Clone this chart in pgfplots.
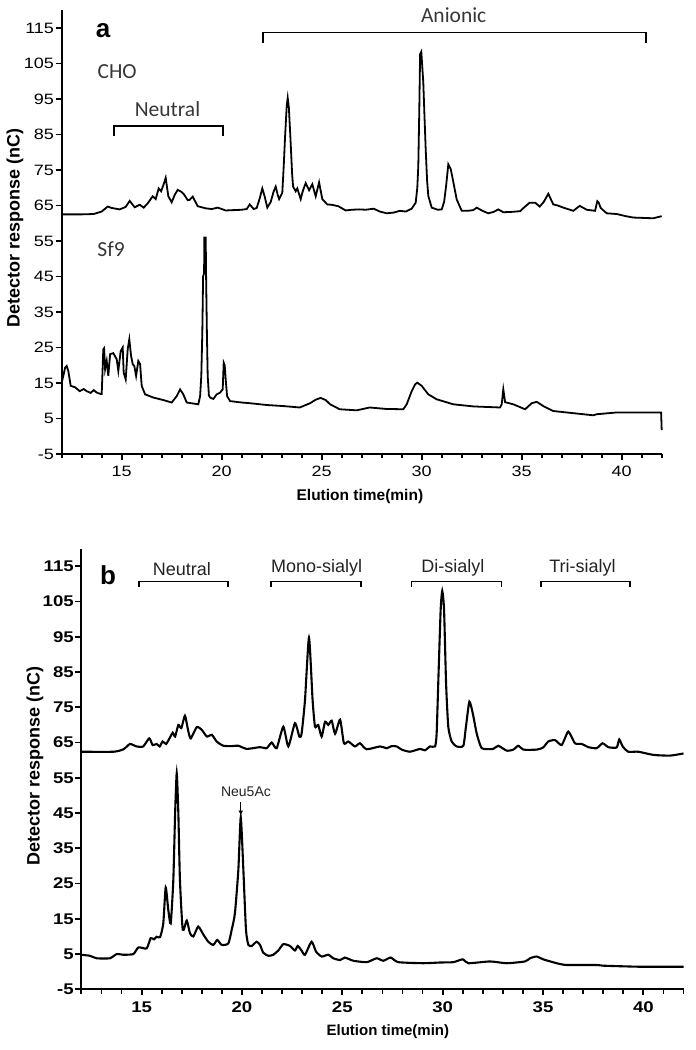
\documentclass[border=0pt]{standalone}
\usepackage{fontspec}
\setmainfont{Liberation Sans}
\newfontfamily\tickfont[FakeStretch=1.2]{Liberation Sans}
\newfontfamily\calib{Carlito}
\usepackage{pgfplots}
\pgfplotsset{compat=1.18}
\usetikzlibrary{arrows.meta}
\definecolor{annot}{RGB}{55,55,55}
\definecolor{annotb}{RGB}{35,35,35}
\pgfplotsset{
 chrom/.style={
  scale only axis, xmin=12, xmax=42, ymin=-5, ymax=120,
  axis x line*=bottom, axis y line*=left,
  axis line style={line width=2.2pt,-},
  xtick={15,20,...,40},
  extra x ticks={12,13,14,16,17,18,19,21,22,23,24,26,27,28,29,31,32,33,34,36,37,38,39,41,42},
  extra x tick labels={},
  extra x tick style={major tick length=4.5pt},
  ytick={-5,5,...,115},
  tick align=outside, major tick length=6pt,
  every tick/.style={line width=1.8pt, black},
  clip=false,
  /pgf/number format/assume math mode=true,
  yticklabel style={inner sep=1.5pt},
  xticklabel style={inner sep=2pt, yshift=-4pt},
 }
}
\begin{document}
\begin{tikzpicture}
\useasboundingbox (0,0) rectangle (696pt,1050pt);
% ---------------- panel a ----------------
\begin{axis}[chrom, at={(61.7pt,596pt)}, anchor=south west,
  width=600pt, height=443.75pt,
  tick label style={font=\tickfont\fontsize{15}{15}\selectfont},
  xlabel={Elution time(min)},
  ylabel={Detector response (nC)},
  xlabel style={font=\bfseries\fontsize{15.5}{16}\selectfont, at={(axis description cs:0.497,-0.0947)}, anchor=center},
  ylabel style={font=\bfseries\fontsize{18}{18}\selectfont, at={(axis description cs:-0.0778,0.51)}, anchor=center},
]
\addplot[black, line width=1.8pt] table {
12.0 62.5
13.0 62.5
13.6 62.6
14.0 63.3
14.3 64.7
14.5 64.3
14.9 63.9
15.2 64.6
15.4 66.3
15.65 64.5
15.9 65.2
16.1 64.4
16.3 65.6
16.55 67.6
16.7 66.8
16.85 69.8
16.97 69.0
17.1 71.0
17.2 72.8
17.33 67.6
17.5 65.9
17.65 68.0
17.8 69.4
18.0 68.8
18.13 68.0
18.3 66.5
18.4 66.6
18.55 67.5
18.8 64.8
19.2 64.2
19.5 64.0
19.8 64.4
20.2 63.6
20.6 63.7
21.0 63.8
21.25 64.0
21.4 65.3
21.6 64.0
21.75 64.3
21.9 67.0
22.03 69.8
22.15 67.5
22.28 64.4
22.45 66.0
22.6 69.0
22.7 70.3
22.8 68.0
22.87 66.8
23.03 68.6
23.1 76
23.17 84.5
23.25 93.0
23.3 95.3
23.36 92.5
23.45 82.4
23.52 74
23.57 70.3
23.7 69.0
23.78 69.8
23.95 66.8
24.05 69
24.2 71.3
24.37 69.3
24.53 71.0
24.7 67.6
24.87 71.5
25.03 66.8
25.28 65.3
25.5 65.2
25.83 64.8
26.2 63.6
26.5 63.8
26.9 63.9
27.2 63.8
27.6 64.1
27.9 63.3
28.25 62.8
28.6 63.0
28.9 63.5
29.2 63.3
29.5 64.1
29.7 65.8
29.78 70
29.83 76.1
29.88 92
29.92 107.6
29.98 108.3
30.03 104
30.08 99.6
30.14 90
30.2 80.8
30.27 72
30.33 67.7
30.5 64.4
30.8 63.8
31.0 63.9
31.12 66
31.22 70.5
31.33 76.6
31.45 75.3
31.55 72.5
31.75 66.7
32.0 63.5
32.3 63.5
32.58 63.7
32.75 64.4
33.0 63.6
33.33 62.8
33.6 63.2
33.83 63.9
34.08 63.1
34.5 63.2
34.92 63.4
35.15 64.6
35.4 65.8
35.67 65.8
35.9 64.7
36.1 66.0
36.33 68.3
36.58 65.3
36.8 65.0
37.08 64.4
37.58 63.5
37.9 64.9
38.25 63.8
38.67 63.5
38.75 65.5
38.78 66.2
38.85 65.8
38.95 64.3
39.25 62.8
39.75 62.6
40.2 62.0
40.58 61.6
41.58 61.4
42.0 62.0
};
\addplot[black, line width=1.8pt] table {
12.0 15.1
12.1 17.5
12.17 19.3
12.25 19.8
12.33 18.4
12.45 14.2
12.67 13.8
12.9 12.7
13.1 13.3
13.25 12.7
13.45 12.2
13.6 13.0
13.75 12.3
13.95 11.9
14.0 11.9
14.04 18
14.08 24.5
14.12 24.8
14.17 18.9
14.25 21.2
14.33 17.0
14.42 23.1
14.58 23.4
14.75 21.7
14.83 18.4
14.95 24.0
15.05 25.0
15.1 17.9
15.2 16.0
15.3 24.5
15.38 27.3
15.47 22.6
15.55 20.3
15.63 19.8
15.72 17.0
15.83 21.2
15.92 20.3
16.0 14.2
16.17 11.8
16.58 10.9
17.08 10.2
17.5 9.5
17.75 11.3
17.92 13.2
18.08 11.8
18.25 9.5
18.6 9.2
18.83 9.0
18.92 11.3
18.98 17
19.03 29
19.07 45
19.12 46
19.13 56
19.2 56
19.22 45
19.26 29
19.3 17
19.36 11.5
19.42 10.9
19.58 10.5
19.75 11.8
19.92 12.3
20.05 13.2
20.1 20.7
20.15 20.0
20.2 16.0
20.27 11.3
20.42 9.9
21.0 9.5
21.42 9.3
22.25 8.8
23.08 8.5
23.9 8.1
24.42 9.3
24.7 10.3
24.95 10.8
25.2 10.2
25.42 9.0
25.9 7.6
26.75 7.3
27.4 8.1
28.2 7.7
29.08 7.6
29.25 9.0
29.5 12.7
29.67 14.6
29.78 15.1
30.0 14.2
30.33 11.8
30.75 10.4
31.58 9.0
32.58 8.4
33.92 8.1
34.0 9.0
34.08 13.2
34.17 9.6
34.58 9.0
35.17 7.6
35.5 9.3
35.75 9.7
36.08 8.5
36.58 7.1
37.58 6.5
38.58 5.9
38.75 6.2
39.75 6.7
41.97 6.7
42.0 1.7
};
\node[font=\bfseries\fontsize{26}{26}\selectfont] at (axis cs:14.07,114.3) {a};
\node[font=\calib\fontsize{21.5}{21.5}\selectfont, text=annot] at (axis cs:14.77,102.8) {CHO};
\node[font=\calib\fontsize{21.5}{21.5}\selectfont, text=annot] at (axis cs:14.47,52.8) {Sf9};
\node[font=\calib\fontsize{21.5}{21.5}\selectfont, text=annot] at (axis cs:17.29,92.2) {Neutral};
\node[font=\calib\fontsize{21.5}{21.5}\selectfont, text=annot] at (axis cs:31.6,118.7) {Anionic};
\draw[line width=1.7pt] (axis cs:14.63,84.6) -- (axis cs:14.63,87.4) -- (axis cs:20.05,87.4) -- (axis cs:20.05,84.6);
\draw[line width=1.7pt] (axis cs:22.05,110.9) -- (axis cs:22.05,113.7) -- (axis cs:41.2,113.7) -- (axis cs:41.2,110.9);
\end{axis}
% ---------------- panel b ----------------
\begin{axis}[chrom, at={(81.4pt,60.7pt)}, anchor=south west,
  width=602.1pt, height=440.6pt,
  tick label style={font=\tickfont\bfseries\fontsize{15.5}{16}\selectfont},
  xlabel={Elution time(min)},
  ylabel={Detector response (nC)},
  xlabel style={font=\bfseries\fontsize{15}{16}\selectfont, at={(axis description cs:0.509,-0.0962)}, anchor=center},
  ylabel style={font=\bfseries\fontsize{18}{18}\selectfont, at={(axis description cs:-0.0771,0.507)}, anchor=center},
]
\addplot[black, line width=2.1pt, smooth, tension=0.35] table {
12.0 62.4
13.6 62.4
14.1 63.1
14.42 64.6
14.75 63.9
15.08 63.9
15.38 66.2
15.55 64.3
15.75 64.6
15.9 63.9
16.05 65.3
16.22 64.6
16.42 66.5
16.55 67.8
16.67 66.7
16.83 70.0
16.98 69.1
17.16 72.6
17.33 68.1
17.45 66.2
17.75 69.4
18.0 68.6
18.25 66.7
18.5 67.2
18.74 65.3
19.07 64.1
19.5 64.0
19.82 64.1
20.24 63.2
20.9 63.7
21.23 63.4
21.48 65.0
21.73 63.4
22.06 69.5
22.31 63.9
22.64 70.5
22.86 66.7
22.97 67.5
23.14 77
23.34 94.8
23.52 77
23.64 69.5
23.8 70
23.97 66.7
24.14 70.9
24.3 70.0
24.47 71.2
24.64 67.5
24.89 71.5
25.08 64.8
25.3 65.3
25.63 63.9
25.88 64.8
26.21 63.1
26.88 63.9
27.21 63.4
27.46 64.0
27.71 63.9
27.96 63.0
28.37 62.4
28.87 63.2
29.12 62.8
29.37 63.9
29.62 63.9
29.7 67.5
29.78 81.8
29.9 102.6
29.98 108
30.07 102.6
30.17 81.8
30.28 69.5
30.45 65.3
30.7 63.9
31.03 64.1
31.16 69.5
31.33 76.6
31.5 73.3
31.7 67.5
31.95 63.4
32.52 63.2
32.77 64.1
33.19 62.7
33.52 63.0
33.77 64.1
34.02 63.0
34.69 63.0
35.01 63.6
35.26 65.3
35.6 65.7
35.93 64.3
36.26 68.1
36.59 64.8
36.93 64.6
37.26 63.7
37.67 63.4
37.97 64.8
38.25 63.7
38.67 63.6
38.8 65.9
38.97 63.9
39.25 62.4
39.75 62.4
40.5 61.5
41.33 61.3
42.0 61.9
};
\addplot[black, line width=2.1pt, smooth, tension=0.35] table {
12.0 4.8
12.43 4.5
12.76 3.8
13.42 3.8
13.76 5.0
14.09 4.8
14.59 5.0
14.84 6.9
15.25 6.6
15.45 9.5
15.62 9.2
15.75 9.9
15.92 9.8
16.08 13.7
16.2 23.9
16.33 17.5
16.45 13.7
16.58 26
16.67 45
16.75 56.3
16.83 45
16.91 26
17.05 11.9
17.25 14.5
17.41 10.9
17.58 10.0
17.82 12.8
18.07 10.6
18.32 8.5
18.57 7.6
18.77 9.0
18.99 7.6
19.32 8.0
19.49 11.9
19.65 16.6
19.82 28.9
19.94 43.8
20.07 28.9
20.2 11.9
20.32 7.6
20.49 7.3
20.73 8.5
20.9 7.6
21.06 5.4
21.31 4.5
21.56 4.8
21.81 6.0
22.06 7.8
22.39 7.3
22.64 6.0
22.78 7.3
22.98 5.9
23.14 4.8
23.47 8.5
23.69 5.7
23.97 4.3
24.3 4.8
24.55 3.8
24.89 3.3
25.13 4.0
25.55 3.1
26.22 2.7
26.71 3.8
27.04 3.1
27.41 4.0
27.79 2.7
29.04 2.4
29.87 2.6
30.53 2.7
31.0 3.5
31.28 2.4
32.36 2.9
33.19 2.4
34.1 2.9
34.35 3.8
34.68 4.3
35.01 3.5
35.68 2.4
36.18 1.9
37.68 1.9
38.0 1.7
39.83 1.4
42.0 1.4
};
\node[font=\bfseries\fontsize{26}{26}\selectfont] at (axis cs:13.33,112.6) {b};
\node[font=\fontsize{18}{18}\selectfont, text=annotb] at (axis cs:17.01,114.1) {Neutral};
\node[font=\fontsize{18}{18}\selectfont, text=annotb] at (axis cs:23.72,114.5) {Mono-sialyl};
\node[font=\fontsize{18}{18}\selectfont, text=annotb] at (axis cs:30.51,114.5) {Di-sialyl};
\node[font=\fontsize{18}{18}\selectfont, text=annotb] at (axis cs:36.97,114.5) {Tri-sialyl};
\draw[line width=1.7pt] (axis cs:14.87,109.2) -- (axis cs:14.87,110.66) -- (axis cs:19.32,110.66) -- (axis cs:19.32,109.2);
\draw[line width=1.7pt] (axis cs:21.45,109.2) -- (axis cs:21.45,110.66) -- (axis cs:25.93,110.66) -- (axis cs:25.93,109.2);
\draw[line width=1.7pt] (axis cs:28.45,109.2) -- (axis cs:28.45,110.66) -- (axis cs:32.93,110.66) -- (axis cs:32.93,109.2);
\draw[line width=1.7pt] (axis cs:34.9,109.2) -- (axis cs:34.9,110.66) -- (axis cs:39.34,110.66) -- (axis cs:39.34,109.2);
\node[font=\fontsize{14}{14}\selectfont, text=annotb] at (axis cs:20.2,51.1) {Neu5Ac};
\draw[-{Latex[length=5pt,width=5pt]}, line width=1.3pt] (axis cs:19.94,48.2) -- (axis cs:19.94,44.3);
\end{axis}
\end{tikzpicture}
\end{document}
